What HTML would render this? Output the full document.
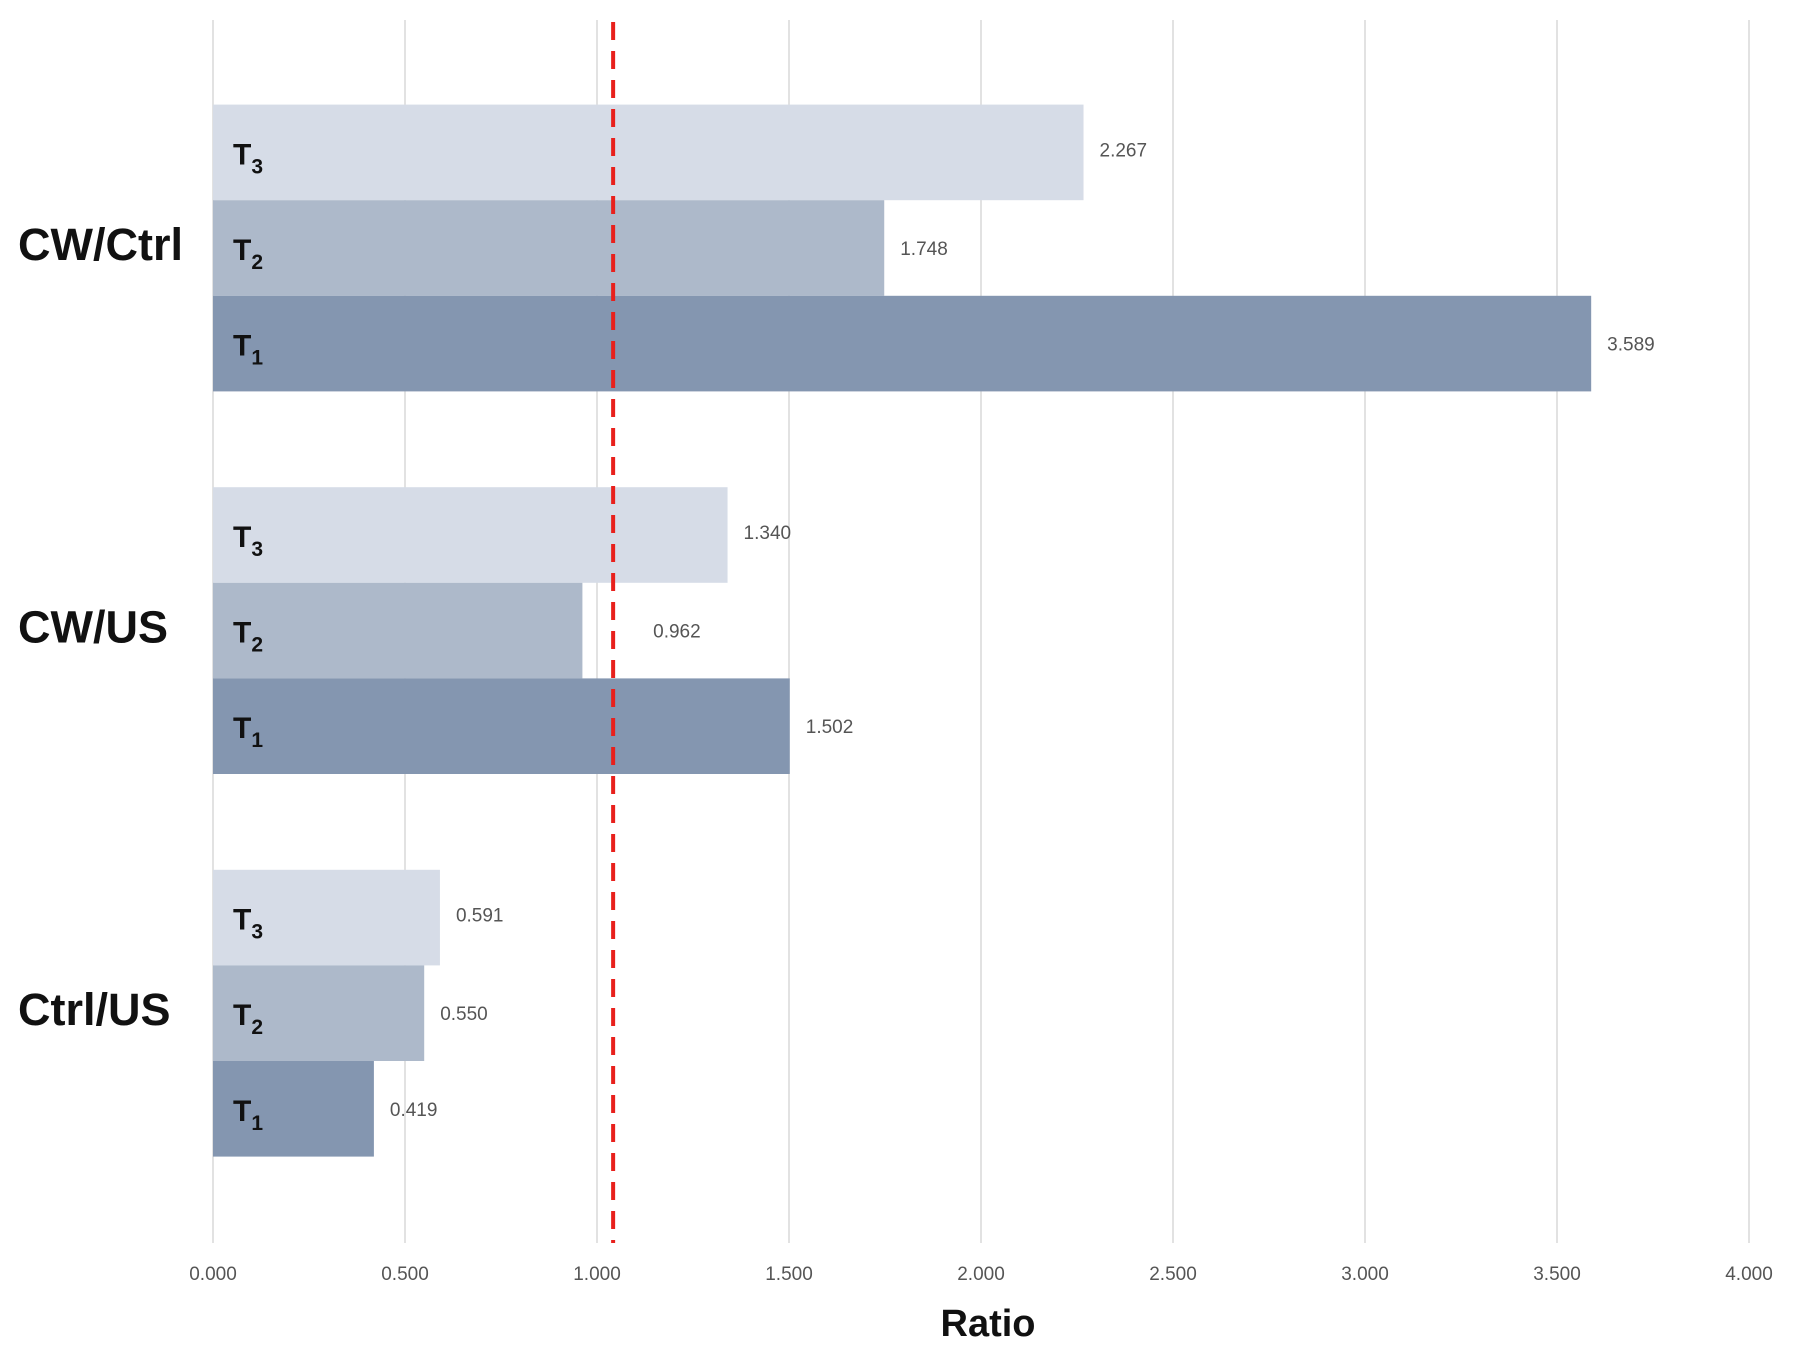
<!DOCTYPE html>
<html><head><meta charset="utf-8"><style>
html,body{margin:0;padding:0;background:#fff;}
svg{display:block;font-family:"Liberation Sans",sans-serif;}
</style></head><body>
<svg id="chart" width="1795" height="1353" viewBox="0 0 1795 1353" xmlns="http://www.w3.org/2000/svg">
<g id="grid"></g>
<g id="bars"></g>
<g id="ref"></g>
<g id="labels"></g>
<text x="988" y="1336" text-anchor="middle" font-size="38" font-weight="bold" fill="#111">Ratio</text>
</svg>
<script>
const categories = ["CW/Ctrl", "CW/US", "Ctrl/US"];
const seriesNames = ["T3", "T2", "T1"];
const t3Values = [2.267, 1.340, 0.591];
const t2Values = [1.748, 0.962, 0.550];
const t1Values = [3.589, 1.502, 0.419];
const tickValues = [0, 0.5, 1, 1.5, 2, 2.5, 3, 3.5, 4];
const tickLabels = ["0.000","0.500","1.000","1.500","2.000","2.500","3.000","3.500","4.000"];
const referenceValue = 1.042;

const NS = "http://www.w3.org/2000/svg";
const X0 = 213, UNIT = 384;
function xScale(v){ return X0 + v * UNIT; }
const GROUP0 = 248, GROUP_STEP = 382.6, BAR_H = 95.6;
function groupCenter(i){ return GROUP0 + i * GROUP_STEP; }
function mk(tag, attrs, parent){ const e=document.createElementNS(NS,tag); for(const k in attrs) e.setAttribute(k, attrs[k]); parent.appendChild(e); return e; }

const grid = document.getElementById('grid');
const bars = document.getElementById('bars');
const labels = document.getElementById('labels');
const ref = document.getElementById('ref');

tickValues.forEach((v,i)=>{
  const l = mk('line',{x1:xScale(v),x2:xScale(v),y1:20,y2:1243,stroke:'#d9d9d9','stroke-width':1.5},grid);
  
  
  const t = mk('text',{x:xScale(v),y:1280,'text-anchor':'middle','font-size':19,fill:'#555'},grid);
  t.textContent = tickLabels[i];
  
  
});

const seriesVals = [t3Values, t2Values, t1Values];
const colors = ["#d6dce7", "#adb9ca", "#8496b0"];
const subs = ["3","2","1"];
const refX = xScale(referenceValue);
categories.forEach((c,ci)=>{
  const cy = groupCenter(ci);
  const ct = mk('text',{x:18,y:cy+12,'font-size':45,'font-weight':'bold',fill:'#111'},labels);
  ct.textContent = c;
  
  
  seriesVals.forEach((arr,si)=>{
    const v = arr[ci];
    const top = cy - 1.5*BAR_H + si*BAR_H;
    const r = mk('rect',{x:X0,y:top,width:xScale(v)-X0,height:BAR_H,fill:colors[si]},bars);
    
    
    const s = mk('text',{x:233,y:top+BAR_H/2+12,'font-size':30,'font-weight':'bold',fill:'#111'},labels);
    s.innerHTML = 'T<tspan font-size="21" dy="9">'+subs[si]+'</tspan>';
    
    
    let lx = xScale(v) + 16;
    if (lx < refX + 8 && lx + 55 > refX) lx = refX + 40;
    const vt = mk('text',{x:lx,y:top+BAR_H/2+7 - (si===0?3:0),'font-size':19,fill:'#555'},labels);
    vt.textContent = v.toFixed(3);
    
    
  });
});

const rl = mk('line',{x1:refX,x2:refX,y1:22,y2:1243,stroke:'#e8201c','stroke-width':4,'stroke-dasharray':'18 11'},ref);


</script>
</body></html>
